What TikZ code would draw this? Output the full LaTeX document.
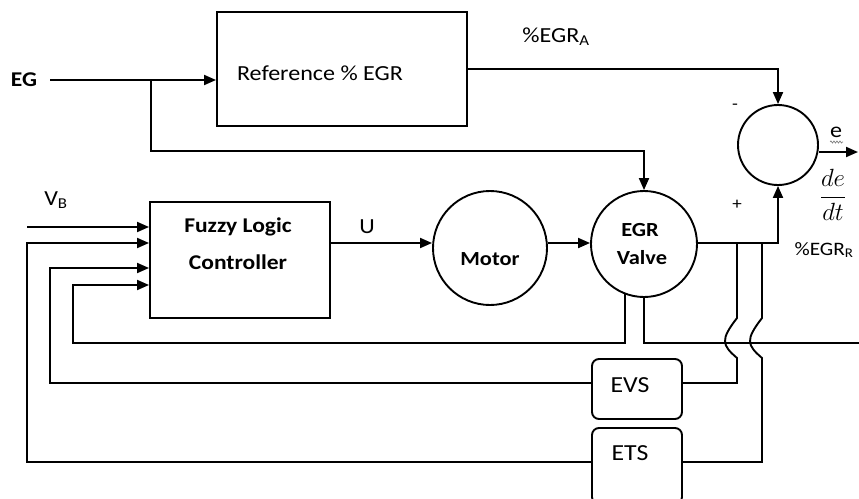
\documentclass[tikz,border=0pt]{standalone}
\usepackage{fontspec}
\setmainfont{Carlito}[FakeStretch=1.12]
\usetikzlibrary{arrows.meta,decorations.pathmorphing}
\begin{document}
\begin{tikzpicture}[x=1pt,y=-1pt,
  ln/.style={line width=1.9pt},
  arr/.style={line width=1.9pt,-{Triangle[length=12pt,width=10pt]}},
  blk/.style={draw,line width=1.9pt,rectangle,inner sep=0pt},
  circ/.style={draw,line width=1.9pt,circle,inner sep=0pt},
  lbl/.style={inner sep=0pt,font=\fontsize{21.5}{25}\selectfont},
  blbl/.style={inner sep=0pt,font=\fontsize{21}{25}\selectfont\bfseries},
]
\useasboundingbox (0,0) rectangle (859,498);
\clip (0,0) rectangle (859,498);

% blocks
\node[blk,minimum width=250pt,minimum height=114pt] (ref) at (342,69) {};
\node[lbl] (reftxt) at (320,73) {Reference \% EGR};
\node[blk,minimum width=180pt,minimum height=116pt] (flc) at (240,260) {};
\node[blbl] (flct1) at (238,227) {Fuzzy Logic};
\node[blbl] (flct2) at (238,262) {Controller};
\node[circ,minimum size=114pt] (motor) at (490,248) {};
\node[blbl,font=\fontsize{20}{24}\selectfont\bfseries] (motort) at (490,259) {Motor};
\node[circ,minimum size=106pt] (valve) at (644,244) {};
\node[blbl,font=\fontsize{20}{24}\selectfont\bfseries] (valvet1) at (640,230) {EGR};
\node[blbl,font=\fontsize{20}{24}\selectfont\bfseries] (valvet2) at (642,258) {Valve};
\node[circ,minimum size=80pt] (sum) at (778,145) {};
\node[blk,rounded corners=7pt,minimum width=90pt,minimum height=60pt] (evs) at (637,389) {};
\node[lbl,font=\fontsize{23}{27}\selectfont] (evst) at (630,385) {EVS};
\node[blk,rounded corners=7pt,minimum width=90pt,minimum height=76pt] (ets) at (637,466) {};
\node[lbl,font=\fontsize{23}{27}\selectfont] (etst) at (630,453) {ETS};

% labels
\node[blbl] (eg) at (24,80) {EG};
\node[lbl] (egra) at (556,37) {\%EGR\textsubscript{A}};
\node[lbl,font=\fontsize{17}{20}\selectfont] (minus) at (735,107) {-};
\node[lbl,font=\fontsize{17}{20}\selectfont] (plus) at (737,205) {+};
\node[lbl] (e) at (836,132) {e};
\node[lbl,font=\fontsize{25}{30}\selectfont] (dedt) at (833,195) {$\displaystyle\frac{de}{dt}$};
\node[lbl,font=\fontsize{19}{23}\selectfont] (egrr) at (824,250) {\%EGR\textsubscript{R}};
\node[lbl] (vb) at (56,200) {V\textsubscript{B}};
\node[lbl] (u) at (367,227) {U};

% coordinates
\coordinate (egin) at (50,80);
\coordinate (egbr) at (151,80);
\coordinate (egdn) at (151,151);
\coordinate (eout) at (858,152);
\coordinate (vbin) at (27,227);
\coordinate (uy) at (0,243);
\coordinate (j1) at (737,243);
\coordinate (j2) at (762,243);
\coordinate (k1a) at (737,318);
\coordinate (k1c) at (720,340);
\coordinate (k1d) at (722,345);
\coordinate (k1b) at (737,358);
\coordinate (k2a) at (762,318);
\coordinate (k2c) at (745,340);
\coordinate (k2d) at (747,345);
\coordinate (k2b) at (762,358);
\coordinate (evsy) at (0,383);
\coordinate (etsy) at (0,462);
\coordinate (fb1) at (73,343);
\coordinate (in4) at (73,285);
\coordinate (fb2) at (50,383);
\coordinate (in3) at (50,268);
\coordinate (fb3) at (27,462);
\coordinate (in2) at (27,243);
\coordinate (rend) at (859,343);
\coordinate (ew1) at (830,142);
\coordinate (ew2) at (843,142);

% connectors
\draw[arr] (egin) -- (egin -| ref.west);
\draw[arr] (egbr) -- (egdn) -| (valve.north);
\draw[arr] (ref.east) -| (sum.north);
\draw[arr] (sum.east |- eout) -- (eout);
\draw[arr] (vbin) -- (vbin -| flc.west);
\draw[arr] (flc.east |- uy) -- (uy -| motor.west);
\draw[arr] (motor.east |- uy) -- (uy -| valve.west);
\draw[arr] (valve.east |- uy) -| (sum.south);
\draw[ln] (j1) -- (k1a) .. controls (k1c) and (k1d) .. (k1b) |- (evs.east |- evsy);
\draw[ln] (j2) -- (k2a) .. controls (k2c) and (k2d) .. (k2b) |- (ets.east |- etsy);
\draw[arr] (evs.west |- evsy) -- (fb2) -- (in3) -- (in3 -| flc.west);
\draw[arr] (ets.west |- etsy) -- (fb3) -- (in2) -- (in2 -| flc.west);
\draw[arr] (valve.-111) |- (fb1) -- (in4) -- (in4 -| flc.west);
\draw[ln] (valve.south) |- (rend);
\draw[gray,line width=0.7pt,decorate,decoration={snake,amplitude=1pt,segment length=3pt}] (ew1) -- (ew2);
\end{tikzpicture}
\end{document}
